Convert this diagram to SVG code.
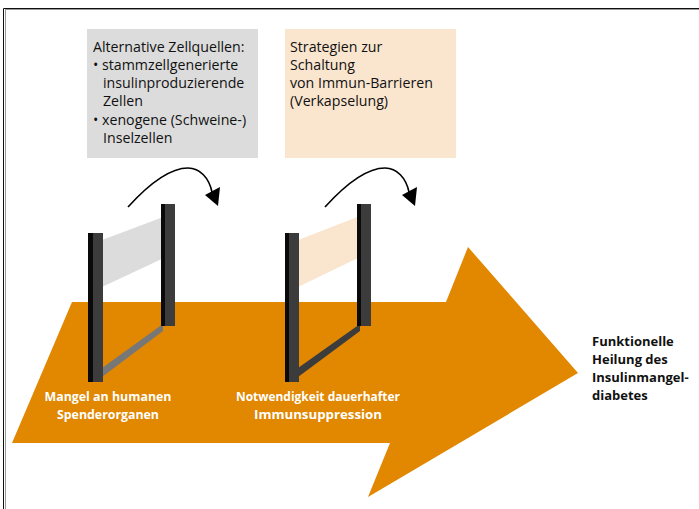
<svg xmlns="http://www.w3.org/2000/svg" width="699" height="509" viewBox="0 0 699 509">
<defs>
<style>
.box{font-family:"Open Sans","Noto Sans","Liberation Sans",sans-serif;font-size:14.2px;fill:#111}
.lbl{font-family:"Open Sans","Noto Sans","Liberation Sans",sans-serif;font-size:12.8px;font-weight:bold;fill:#fff;text-anchor:middle}
.res{font-family:"Open Sans","Noto Sans","Liberation Sans",sans-serif;font-size:13px;font-weight:bold;fill:#111}
.post{fill:#3c3c3c}
.edge{fill:#0a0a0a}
.curve{fill:none;stroke:#000;stroke-width:1.6}
.head{fill:#000}
</style>
</defs>
<rect width="699" height="509" fill="#fff"/>
<g id="frame">
<line x1="3.5" y1="8.5" x2="699" y2="8.5" stroke="#111" stroke-width="1"/>
<line x1="5" y1="9.5" x2="699" y2="9.5" stroke="#999" stroke-width="1"/>
<line x1="3.5" y1="8.5" x2="3.5" y2="509" stroke="#111" stroke-width="1"/>
<line x1="5.5" y1="10" x2="5.5" y2="509" stroke="#999" stroke-width="1"/>
</g>
<g id="arrow-main">
<polygon points="72,302 446,302 468,247 578,373 368,497 390,443 12,443" fill="#E18700"/>
</g>
<g id="box-zellquellen">
<rect x="87" y="29" width="171" height="129" fill="#dcdcdc"/>
<text class="box"><tspan x="93" y="52">Alternative Zellquellen:</tspan><tspan x="93" y="70">• stammzellgenerierte</tspan><tspan x="103" y="88">insulinproduzierende</tspan><tspan x="103" y="106">Zellen</tspan><tspan x="93" y="125">• xenogene (Schweine-)</tspan><tspan x="103" y="143">Inselzellen</tspan></text>
</g>
<g id="box-strategien">
<rect x="285" y="29" width="171" height="129" fill="#fae5cf"/>
<text class="box"><tspan x="290" y="52">Strategien zur</tspan><tspan x="290" y="70">Schaltung</tspan><tspan x="290" y="88">von Immun-Barrieren</tspan><tspan x="290" y="106">(Verkapselung)</tspan></text>
</g>
<g id="hurdle-1">
<polygon points="102,240 166,216 166,257 102,287" fill="#dcdcdc"/>
<polygon points="102,368 163,324 163,331 102,377" fill="#777"/>
<rect x="161" y="204" width="14" height="122" class="post"/>
<rect x="161" y="204" width="4" height="122" class="edge"/>
<rect x="88" y="233" width="15" height="149" class="post"/>
<rect x="88" y="233" width="5" height="149" class="edge"/>
</g>
<g id="hurdle-2">
<polygon points="298,240 360,216 360,257 298,287" fill="#fae5cf"/>
<polygon points="298,368 360,324 360,331 298,377" fill="#3c3c3c"/>
<rect x="357" y="204" width="14" height="122" class="post"/>
<rect x="357" y="204" width="4" height="122" class="edge"/>
<rect x="285" y="233" width="14" height="149" class="post"/>
<rect x="285" y="233" width="4" height="149" class="edge"/>
</g>
<g id="connectors">
<path class="curve" d="M128,207 C148,185 170,168 188,168 C200,168 209,178 212,192"/>
<polygon class="head" points="205,195 220,187 218,206"/>
<path class="curve" d="M325,207 C345,185 367,168 385,168 C397,168 406,178 409,192"/>
<polygon class="head" points="402,195 417,187 415,206"/>
</g>
<g id="labels">
<text class="lbl"><tspan x="108" y="401" textLength="127" lengthAdjust="spacingAndGlyphs">Mangel an humanen</tspan><tspan x="108" y="419" textLength="102" lengthAdjust="spacingAndGlyphs">Spenderorganen</tspan></text>
<text class="lbl"><tspan x="318" y="401" textLength="164" lengthAdjust="spacingAndGlyphs">Notwendigkeit dauerhafter</tspan><tspan x="318" y="419" textLength="128" lengthAdjust="spacingAndGlyphs">Immunsuppression</tspan></text>
<text class="res"><tspan x="592" y="346">Funktionelle</tspan><tspan x="592" y="364">Heilung des</tspan><tspan x="592" y="382">Insulinmangel-</tspan><tspan x="592" y="400">diabetes</tspan></text>
</g>
</svg>
